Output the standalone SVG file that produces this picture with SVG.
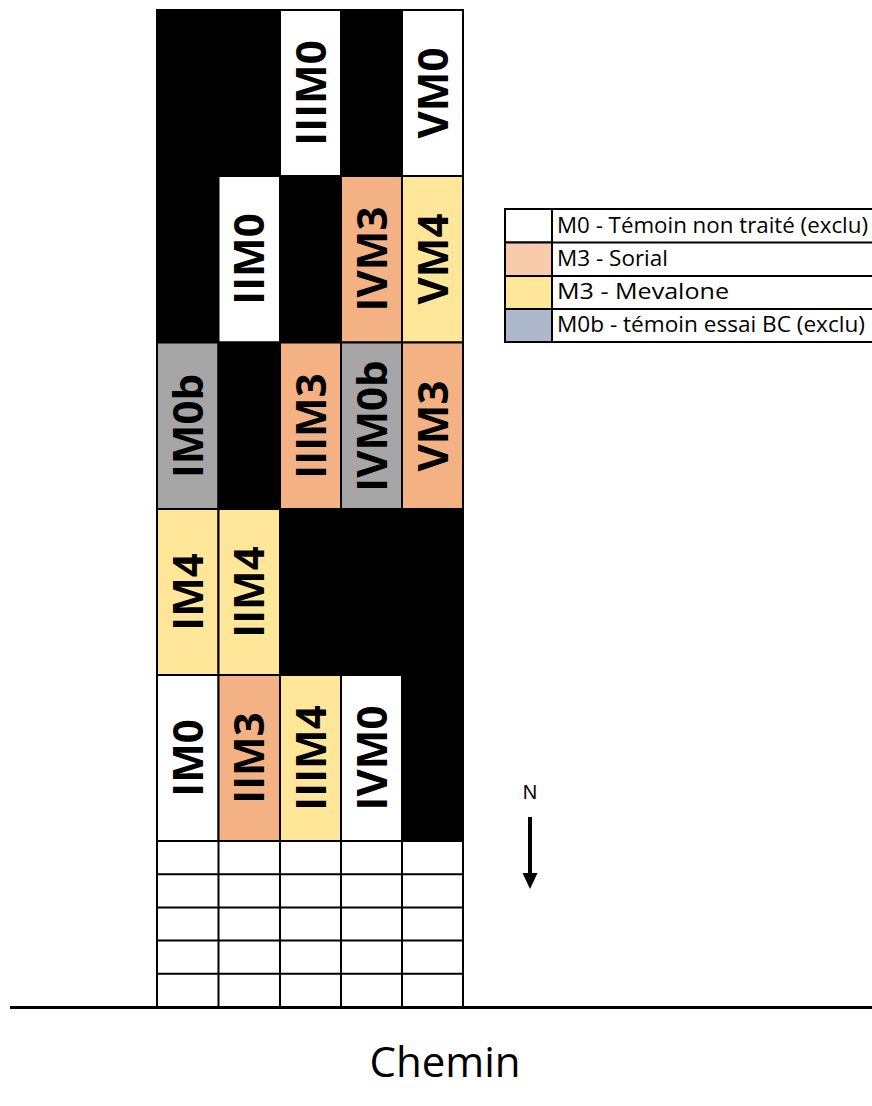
<svg xmlns="http://www.w3.org/2000/svg" width="872" height="1106" viewBox="0 0 872 1106">
<style>
.c{stroke:#000;stroke-width:2}
.k{fill:#000}
.w{fill:#fff}
.s{fill:#F4B183}
.y{fill:#FFE699}
.g{fill:#A6A6A6}
.lb{font-family:"Open Sans","Liberation Sans",sans-serif;font-weight:700;font-size:42px;fill:#000;text-anchor:middle}
.lg{font-family:"Open Sans","Liberation Sans",sans-serif;font-size:21px;fill:#000}
</style>
<rect width="872" height="1106" fill="#fff"/>
<g id="plots">
<g id="r1">
<rect class="c k" x="157" y="10" width="61.5" height="166"/>
<rect class="c k" x="218.5" y="10" width="61.5" height="166"/>
<rect class="c w" x="280" y="10" width="61" height="166"/>
<rect class="c k" x="341" y="10" width="61" height="166"/>
<rect class="c w" x="402" y="10" width="61" height="166"/>
</g>
<g id="r2">
<rect class="c k" x="157" y="176" width="61.5" height="166.5"/>
<rect class="c w" x="218.5" y="176" width="61.5" height="166.5"/>
<rect class="c k" x="280" y="176" width="61" height="166.5"/>
<rect class="c s" x="341" y="176" width="61" height="166.5"/>
<rect class="c y" x="402" y="176" width="61" height="166.5"/>
</g>
<g id="r3">
<rect class="c g" x="157" y="342.5" width="61.5" height="166.5"/>
<rect class="c k" x="218.5" y="342.5" width="61.5" height="166.5"/>
<rect class="c s" x="280" y="342.5" width="61" height="166.5"/>
<rect class="c g" x="341" y="342.5" width="61" height="166.5"/>
<rect class="c s" x="402" y="342.5" width="61" height="166.5"/>
</g>
<g id="r4">
<rect class="c y" x="157" y="509" width="61.5" height="166"/>
<rect class="c y" x="218.5" y="509" width="61.5" height="166"/>
<rect class="c k" x="280" y="509" width="183" height="166"/>
</g>
<g id="r5">
<rect class="c w" x="157" y="675" width="61.5" height="166"/>
<rect class="c s" x="218.5" y="675" width="61.5" height="166"/>
<rect class="c y" x="280" y="675" width="61" height="166"/>
<rect class="c w" x="341" y="675" width="61" height="166"/>
<rect class="c k" x="402" y="675" width="61" height="166"/>
</g>
<g id="empty" fill="none" stroke="#000" stroke-width="2">
<rect x="157" y="841" width="306" height="166" fill="#fff"/>
<path d="M157 874.2H463M157 907.4H463M157 940.6H463M157 973.8H463M218.5 841V1007M280 841V1007M341 841V1007M402 841V1007"/>
</g>
<rect x="157" y="10" width="306" height="997" fill="none" stroke="#000" stroke-width="2"/>
</g>
<g id="labels">
<g id="IIIM0"><text class="lb" transform="translate(310.5,93) rotate(-90)" y="15">IIIM0</text></g>
<g id="VM0"><text class="lb" transform="translate(432.5,93) rotate(-90)" y="15">VM0</text></g>
<g id="IIM0"><text class="lb" transform="translate(249.3,259) rotate(-90)" y="15">IIM0</text></g>
<g id="IVM3"><text class="lb" transform="translate(371.5,259) rotate(-90)" y="15">IVM3</text></g>
<g id="VM4"><text class="lb" transform="translate(432.5,259) rotate(-90)" y="15">VM4</text></g>
<g id="IM0b"><text class="lb" transform="translate(187.8,426) rotate(-90)" y="15">IM0b</text></g>
<g id="IIIM3"><text class="lb" transform="translate(310.5,426) rotate(-90)" y="15">IIIM3</text></g>
<g id="IVM0b"><text class="lb" transform="translate(371.5,426) rotate(-90)" y="15">IVM0b</text></g>
<g id="VM3"><text class="lb" transform="translate(432.5,426) rotate(-90)" y="15">VM3</text></g>
<g id="IM4"><text class="lb" transform="translate(187.8,592) rotate(-90)" y="15">IM4</text></g>
<g id="IIM4"><text class="lb" transform="translate(249.3,592) rotate(-90)" y="15">IIM4</text></g>
<g id="IM0"><text class="lb" transform="translate(187.8,758) rotate(-90)" y="15">IM0</text></g>
<g id="IIM3"><text class="lb" transform="translate(249.3,758) rotate(-90)" y="15">IIM3</text></g>
<g id="IIIM4"><text class="lb" transform="translate(310.5,758) rotate(-90)" y="15">IIIM4</text></g>
<g id="IVM0"><text class="lb" transform="translate(371.5,758) rotate(-90)" y="15">IVM0</text></g>
</g>
<g id="legend" stroke="#000" stroke-width="2">
<rect x="505" y="209" width="47" height="33.5" fill="#fff"/>
<rect x="505" y="242.5" width="47" height="33.5" fill="#F8CBAD"/>
<rect x="505" y="276" width="47" height="33" fill="#FFE699"/>
<rect x="505" y="309" width="47" height="33" fill="#ADB9CA"/>
<rect x="552" y="209" width="330" height="133" fill="#fff"/>
<path d="M552 242.5H882M552 276H882M552 309H882"/>
<g stroke="none">
<text class="lg" x="557" y="233" textLength="311" lengthAdjust="spacingAndGlyphs">M0 - Témoin non traité (exclu)</text>
<text class="lg" x="557" y="266" textLength="111" lengthAdjust="spacingAndGlyphs">M3 - Sorial</text>
<text class="lg" x="557" y="299" textLength="172" lengthAdjust="spacingAndGlyphs">M3 - Mevalone</text>
<text class="lg" x="557" y="332" textLength="308" lengthAdjust="spacingAndGlyphs">M0b - témoin essai BC (exclu)</text>
</g>
</g>
<g id="connectors">
<text x="530" y="799" font-family="Liberation Sans,Arial,sans-serif" font-size="20" text-anchor="middle">N</text>
<line x1="530" y1="817" x2="530" y2="874" stroke="#000" stroke-width="4"/>
<polygon points="522.5,873 537.5,873 530,889" fill="#000"/>
<line x1="10" y1="1007.5" x2="872" y2="1007.5" stroke="#000" stroke-width="3"/>
</g>
<text x="445" y="1077" font-family="Open Sans,Liberation Sans,sans-serif" font-size="42" text-anchor="middle">Chemin</text>
</svg>
